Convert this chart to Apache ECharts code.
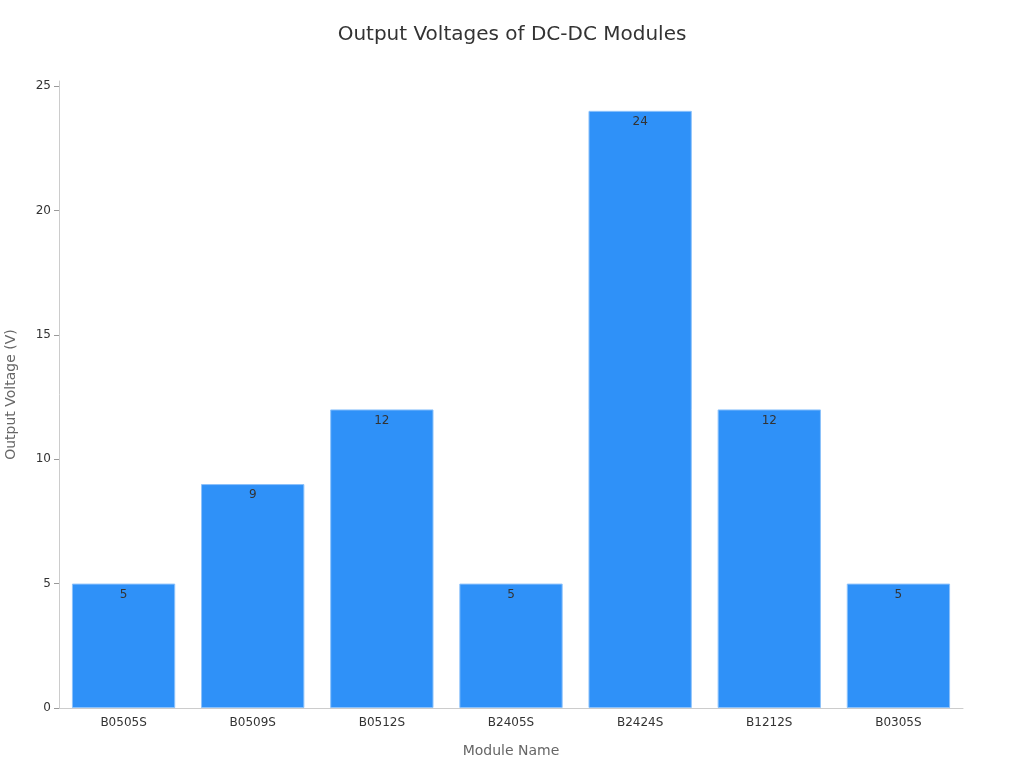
<!DOCTYPE html>
<html>
<head>
<meta charset="utf-8">
<style>
  html, body { margin: 0; padding: 0; background: #fff; }
  #container { width: 1024px; height: 768px; }
</style>
<script src="https://cdn.jsdelivr.net/npm/echarts@6/dist/echarts.min.js"></script>
</head>
<body>
<div id="container"></div>
<script>
var modules = ['B0505S', 'B0509S', 'B0512S', 'B2405S', 'B2424S', 'B1212S', 'B0305S'];
var voltages = [5, 9, 12, 5, 24, 12, 5];
var yTicks = [0, 5, 10, 15, 20, 25];

var dom = document.getElementById('container');
var myChart = echarts.init(dom, null, { renderer: 'canvas' });

var font = 'DejaVu Sans';
var option = {
  textStyle: { fontFamily: font },
  title: {
    text: 'Output Voltages of DC-DC Modules',
    left: 'center',
    top: 20,
    textStyle: { fontFamily: font, fontSize: 20, fontWeight: 'normal', color: '#333' }
  },
  grid: { left: 59, right: 61, top: 81, bottom: 60, containLabel: false, outerBoundsMode: 'none' },
  xAxis: {
    type: 'category',
    data: modules,
    name: 'Module Name',
    nameLocation: 'middle',
    nameGap: 36,
    nameTextStyle: { fontFamily: font, fontSize: 14, color: '#666' },
    axisLine: { lineStyle: { color: '#ccc' } },
    axisTick: { alignWithLabel: true, length: 5, lineStyle: { color: '#999' } },
    axisLabel: { fontFamily: font, fontSize: 12, color: '#333', margin: 9 }
  },
  yAxis: {
    type: 'value',
    min: 0,
    max: 25.2,
    name: 'Output Voltage (V)',
    nameLocation: 'middle',
    nameGap: 41,
    nameTextStyle: { fontFamily: font, fontSize: 14, color: '#666' },
    splitLine: { show: false },
    axisLine: { show: true, lineStyle: { color: '#ccc' } },
    axisTick: { show: true, length: 5, customValues: yTicks, lineStyle: { color: '#999' } },
    axisLabel: { fontFamily: font, fontSize: 12, color: '#333', customValues: yTicks }
  },
  series: [
    {
      type: 'bar',
      data: voltages,
      barCategoryGap: '20%',
      itemStyle: { color: '#2f91f8', borderColor: '#8cc2fb', borderWidth: 1 },
      label: {
        show: true,
        position: 'insideTop',
        distance: 5,
        fontFamily: font,
        fontSize: 12,
        color: '#333'
      }
    }
  ]
};

myChart.setOption(option);
window.addEventListener('resize', myChart.resize);
</script>
</body>
</html>
